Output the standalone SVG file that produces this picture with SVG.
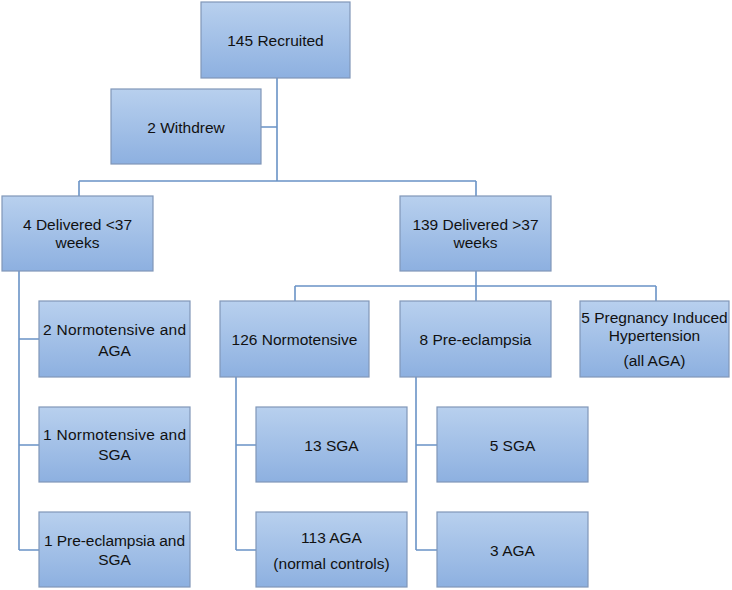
<svg xmlns="http://www.w3.org/2000/svg" width="732" height="590" viewBox="0 0 732 590">
<defs>
<linearGradient id="g" x1="0" y1="0" x2="0" y2="1">
<stop offset="0" stop-color="#b8d0ee"/>
<stop offset="1" stop-color="#8db0e0"/>
</linearGradient>
<style>
.b{fill:url(#g);stroke:#8097b8;stroke-width:1.2}
.t{font-family:"Liberation Sans",Arial,sans-serif;font-size:15.5px;fill:#111;text-anchor:middle}
.c{fill:none;stroke:#6a93c6;stroke-width:1.6}
</style>
</defs>
<rect width="732" height="590" fill="#fff"/>
<g id="connectors">
<path class="c" d="M277,78 V181 M261,127 H277 M79,181 H476 M79,181 V196 M476,181 V196"/>
<path class="c" d="M476,271 V286 M295,286 H656 M295,286 V301 M476,286 V301 M656,286 V301"/>
<path class="c" d="M19,271 V550 M19,339 H39 M19,445 H39 M19,550 H39"/>
<path class="c" d="M236,377 V550 M236,445 H256 M236,550 H256"/>
<path class="c" d="M416,377 V550 M416,445 H437 M416,550 H437"/>
</g>
<g id="recruited"><rect class="b" x="201" y="2" width="149" height="76"/><text class="t" x="275.5" y="45.5">145 Recruited</text></g>
<g id="withdrew"><rect class="b" x="111" y="89" width="150" height="75"/><text class="t" x="186" y="132.5">2 Withdrew</text></g>
<g id="preterm"><rect class="b" x="2" y="196" width="151" height="75"/><text class="t" x="77.5" y="229.5">4 Delivered &lt;37</text><text class="t" x="77.5" y="247.5">weeks</text></g>
<g id="term"><rect class="b" x="400" y="196" width="151" height="75"/><text class="t" x="475.5" y="229.5">139 Delivered &gt;37</text><text class="t" x="475.5" y="247.5">weeks</text></g>
<g id="pt-normo-aga"><rect class="b" x="39" y="301" width="151" height="76"/><text class="t" x="114.5" y="334.5" textLength="143" lengthAdjust="spacing">2 Normotensive and</text><text class="t" x="114.5" y="355.5">AGA</text></g>
<g id="pt-normo-sga"><rect class="b" x="39" y="407" width="151" height="75"/><text class="t" x="114.5" y="439.5" textLength="143" lengthAdjust="spacing">1 Normotensive and</text><text class="t" x="114.5" y="459.5">SGA</text></g>
<g id="pt-pe-sga"><rect class="b" x="39" y="512" width="151" height="75"/><text class="t" x="114.5" y="545.5" textLength="141" lengthAdjust="spacing">1 Pre-eclampsia and</text><text class="t" x="114.5" y="564.5">SGA</text></g>
<g id="normotensive"><rect class="b" x="220" y="301" width="149" height="76"/><text class="t" x="294.5" y="344.5">126 Normotensive</text></g>
<g id="preeclampsia"><rect class="b" x="400" y="301" width="151" height="76"/><text class="t" x="475.5" y="344.5">8 Pre-eclampsia</text></g>
<g id="pih"><rect class="b" x="580" y="301" width="149" height="76"/><text class="t" x="654.5" y="322.5">5 Pregnancy Induced</text><text class="t" x="654.5" y="340.5">Hypertension</text><text class="t" x="654.5" y="365.5">(all AGA)</text></g>
<g id="n-sga"><rect class="b" x="256" y="407" width="151" height="75"/><text class="t" x="331.5" y="450.5">13 SGA</text></g>
<g id="n-aga"><rect class="b" x="256" y="512" width="151" height="75"/><text class="t" x="331.5" y="542.5">113 AGA</text><text class="t" x="331.5" y="568.5">(normal controls)</text></g>
<g id="pe-sga"><rect class="b" x="437" y="407" width="151" height="75"/><text class="t" x="512.5" y="450.5">5 SGA</text></g>
<g id="pe-aga"><rect class="b" x="437" y="512" width="151" height="75"/><text class="t" x="512.5" y="555.5">3 AGA</text></g>
</svg>
